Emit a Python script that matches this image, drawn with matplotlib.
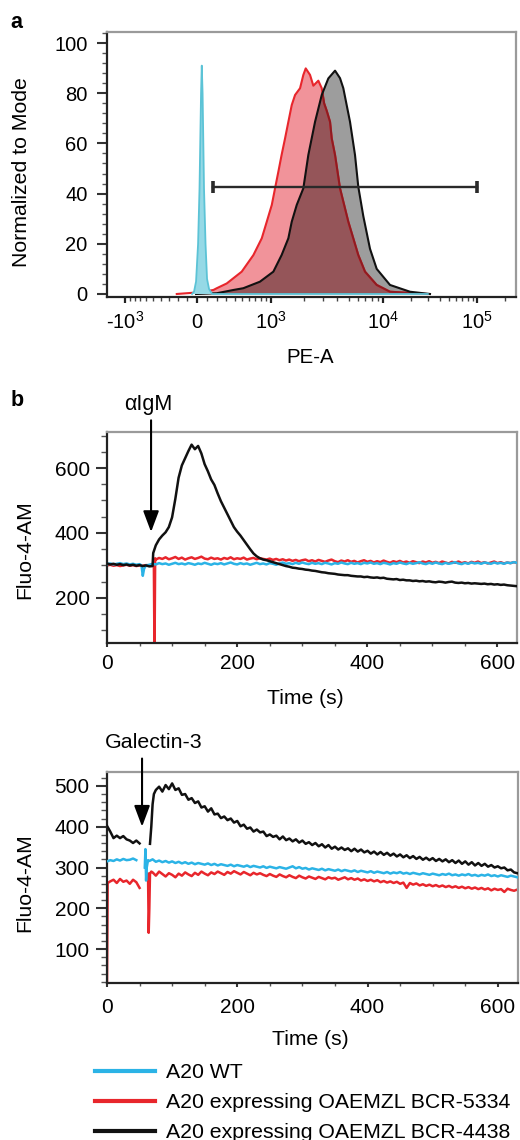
import numpy as np
import matplotlib
matplotlib.use("Agg")
import matplotlib.pyplot as plt
from matplotlib.lines import Line2D
from matplotlib.ticker import FixedLocator, MultipleLocator

plt.rcParams['font.family'] = ['Liberation Sans', 'DejaVu Sans']
plt.rcParams['mathtext.fontset'] = 'custom'
plt.rcParams['mathtext.rm'] = 'Liberation Sans'

# ---- panel a: flow histograms (PE-A, normalized to mode) ----
cyan_pe = [-50, -30, -10, 10, 24, 39, 46, 54, 68, 83, 98, 118, 149, 1000, 30000]
cyan_mode = [0, 1, 5, 20, 42, 80, 91, 80, 42, 20, 6, 2, 0, 0, 0]

red_pe = [-209, 29, 162, 197, 306, 493, 667, 813, 910, 1017, 1093, 1175, 1261, 1358,
          1457, 1565, 1678, 1862, 1993, 2094, 2288, 2448, 2711, 2906, 3050, 3216,
          3440, 3559, 3806, 4209, 4976, 6085, 6963, 8810, 11867, 29150]
red_mode = [0, 0.7, 1.6, 2.3, 4.2, 8.9, 15.5, 22.2, 28.8, 35.5, 42.1, 48.7, 55.4, 62,
            68.6, 75.3, 79.3, 82, 87.3, 89.9, 87.3, 83, 85, 82, 76, 73,
            68.6, 62, 55.4, 42.1, 28.8, 15.5, 8.9, 3.6, 0.9, 0]

black_pe = [-10, 197, 385, 515, 779, 1053, 1261, 1457, 1565, 1738, 1993, 2209, 2535,
            2906, 3322, 3806, 4209, 4499, 5150, 5694, 6085, 6731, 7700, 8810, 11867,
            19372, 31622]
black_mode = [0, 0.3, 1.6, 2.3, 4.9, 8.9, 15.5, 22.2, 28.8, 35.5, 42.1, 55.4, 68.6,
              79.3, 85.9, 89, 86, 82, 68.6, 55.4, 42.7, 31, 18, 10, 3.6, 0.9, 0]

gate_pe = [162, 1e5]
gate_level = 42.5

pe_ticks = [-1e3, 0, 1e3, 1e4, 1e5]
pe_labels = ['-$\\mathregular{10^3}$', '0', '$\\mathregular{10^3}$',
             '$\\mathregular{10^4}$', '$\\mathregular{10^5}$']
pe_minor = ([-100 * k for k in range(1, 10)] + [100 * k for k in range(1, 10)]
            + [1e3 * k for k in range(2, 10)] + [1e4 * k for k in range(2, 10)] + [2e5])

# ---- panel b: calcium flux, alpha-IgM ----
b1_black_pre = [306, 303, 305, 302, 304, 301, 303, 300, 302, 299, 301, 298, 300, 297, 298]
b1_black_jump_t, b1_black_jump_v = [71], [338]
b1_black_post = [362, 380, 392, 402, 418, 448, 505, 570, 608, 630, 652, 672, 658, 668,
                 645, 612, 590, 565, 548, 522, 498, 478, 458, 438, 418, 404, 392, 378,
                 364, 350, 337, 328, 322, 318, 316, 313, 310, 307, 304, 301,
                 298, 296, 293, 292, 290, 289, 287, 286, 284, 283, 281, 279, 278, 276,
                 275, 274, 272, 271, 270, 270, 268, 267, 266, 266, 264, 265, 263, 262,
                 263, 261, 262, 259, 258, 257, 258, 255, 256, 254, 254, 252, 253, 251,
                 252, 250, 251, 249, 248, 250, 249, 247, 249, 250, 247, 246, 247, 245,
                 246, 244, 245, 244, 243, 244, 242, 243, 241, 242, 240, 241, 239, 238,
                 237, 236]

b1_red_pre = [300, 302, 299, 301, 298, 300, 302, 299, 301, 298, 300, 299, 301, 300, 302]
b1_red_drop_t, b1_red_drop_v = [72, 73, 74], [303, 20, 322]
b1_red_post = [318, 323, 320, 325, 319, 322, 326, 320, 324, 318, 322, 325, 320, 323,
               327, 321, 319, 324, 320, 322, 318, 323, 320, 325, 319, 322, 320, 324,
               318, 321, 323, 319, 322, 320, 318, 321, 317, 320, 316, 319, 315, 318,
               314, 317, 313, 316, 318, 313, 316, 312, 317, 314, 311, 315, 318, 313,
               310, 315, 312, 316, 311, 314, 309, 313, 316, 311, 314, 309, 313, 310,
               315, 311, 308, 313, 310, 314, 309, 312, 308, 313, 310, 307, 312, 309,
               313, 308, 311, 307, 312, 309, 306, 311, 308, 312, 307, 310, 306, 311,
               308, 312, 307, 310, 306, 309, 312, 307, 310, 306, 309, 307, 310, 308]

b1_cyan_pre = [304, 306, 303, 305, 307, 304, 306, 303, 305, 302, 304]
b1_cyan_dip_t, b1_cyan_dip_v = [53, 55, 57, 60], [300, 268, 290, 300]
b1_cyan_post = [302, 305, 303, 307, 304, 306, 302, 305, 308, 304, 306, 303, 307, 305,
                302, 306, 304, 308, 305, 302, 306, 304, 307, 303, 306, 309, 305, 303,
                307, 304, 306, 302, 305, 308, 304, 306, 303, 307, 305, 302, 306, 309,
                305, 307, 304, 308, 305, 309, 306, 304, 308, 305, 307, 304, 308, 306,
                303, 307, 305, 309, 306, 304, 308, 305, 307, 304, 308, 306, 309, 305,
                307, 304, 308, 306, 303, 307, 305, 309, 306, 304, 308, 305, 307, 310,
                306, 304, 308, 305, 309, 306, 304, 308, 305, 307, 310, 306, 304, 308,
                305, 309, 306, 308, 305, 309, 307, 305, 309, 306, 308, 305, 309, 307,
                310, 308]

# ---- panel b: calcium flux, Galectin-3 ----
b2_black_pre = [402, 388, 372, 378, 372, 377, 369, 366, 360, 366, 359]
b2_black_jump_t, b2_black_jump_v = [66, 68, 70, 72, 75], [358, 400, 455, 480, 490]
b2_black_post = [498, 486, 502, 492, 506, 490, 494, 478, 480, 466, 470, 458, 462, 447,
                 450, 437, 445, 430, 432, 421, 425, 416, 420, 410, 414, 401, 405, 395,
                 398, 388, 393, 386, 388, 377, 381, 375, 378, 369, 376, 367, 371, 364,
                 369, 361, 366, 358, 362, 355, 360, 352, 357, 349, 355, 346, 351, 344,
                 349, 343, 347, 340, 346, 339, 344, 337, 341, 334, 339, 332, 338, 331,
                 336, 329, 334, 327, 332, 325, 330, 323, 328, 321, 326, 319, 324, 318,
                 323, 316, 321, 315, 320, 313, 318, 311, 317, 309, 315, 307, 313, 305,
                 311, 304, 309, 302, 306, 300, 303, 298, 300, 293, 295, 288, 286]

b2_cyan_pre = [315, 318, 316, 320, 317, 321, 318, 319, 322, 318]
b2_cyan_spike_t, b2_cyan_spike_v = [58, 59, 60, 61, 63], [300, 345, 268, 300, 318]
b2_cyan_post = [316, 320, 314, 317, 313, 316, 312, 315, 311, 314, 310, 313, 309, 312,
                308, 311, 309, 307, 310, 306, 309, 305, 308, 306, 304, 307, 303, 306,
                304, 302, 305, 301, 304, 302, 300, 303, 299, 302, 300, 298, 301, 299,
                297, 300, 303, 298, 301, 297, 299, 295, 298, 296, 294, 297, 293, 296,
                294, 292, 295, 291, 294, 292, 290, 293, 289, 292, 290, 288, 291, 287,
                290, 288, 286, 289, 285, 288, 286, 289, 285, 287, 284, 287, 285, 283,
                286, 284, 282, 285, 283, 281, 284, 282, 285, 281, 283, 280, 283, 281,
                284, 280, 282, 279, 282, 280, 283, 279, 281, 278, 281, 279, 277, 280,
                278, 276]

b2_red_start_t, b2_red_start_v = [0, 1], [20, 262]
b2_red_pre = [266, 270, 262, 272, 265, 268, 260, 270, 264, 250]
b2_red_spike_t, b2_red_spike_v = [63, 64, 65, 66, 68], [285, 140, 200, 285, 290]
b2_red_post = [288, 280, 290, 284, 278, 286, 282, 276, 285, 280, 288, 283, 279, 287,
               282, 290, 285, 281, 288, 284, 290, 286, 282, 289, 285, 291, 287, 283,
               289, 285, 281, 287, 283, 286, 282, 279, 284, 280, 277, 283, 279, 276,
               281, 277, 274, 280, 276, 273, 278, 275, 272, 277, 274, 271, 276, 273,
               275, 270, 273, 276, 271, 274, 270, 273, 268, 271, 267, 270, 266, 269,
               264, 267, 263, 266, 262, 265, 260, 263, 250, 262, 258, 261, 256, 259,
               255, 258, 254, 257, 253, 256, 252, 255, 251, 254, 250, 253, 249, 252,
               248, 251, 247, 250, 246, 249, 244, 248, 245, 247, 240, 248, 245, 243, 246]

legend_labels = ['A20 WT', 'A20 expressing OAEMZL BCR-5334', 'A20 expressing OAEMZL BCR-4438']

C_CYAN = '#2bb3e6'
C_RED = '#e8262c'
C_BLACK = '#111111'
GAP = (np.array([np.nan]), np.array([np.nan]))


def on_grid(t0, vals, step=5):
    return np.arange(len(vals)) * step + t0, np.asarray(vals, float)


def join(*parts):
    return (np.concatenate([np.asarray(p[0], float) for p in parts]),
            np.concatenate([np.asarray(p[1], float) for p in parts]))


# biexponential-like PE-A axis: arcsinh, stretched per decade
knot_u = np.arcsinh(np.array([-1e6, -1e3, 0, 1e3, 1e4, 1e5, 1e7]) / 500)
knot_pos = np.array([-414, -72, 0, 74, 186, 280, 468], float)


def fwd(x):
    return np.interp(np.arcsinh(np.asarray(x, float) / 500), knot_u, knot_pos)


def inv(p):
    return 500 * np.sinh(np.interp(np.asarray(p, float), knot_pos, knot_u))


def style_spines(ax):
    for s in ['left', 'bottom']:
        ax.spines[s].set_color('#222222')
        ax.spines[s].set_linewidth(1.6)
    for s in ['top', 'right']:
        ax.spines[s].set_color('#9a9a9a')
        ax.spines[s].set_linewidth(1.6)


fig = plt.figure(figsize=(5.2, 11.4), dpi=100)

# ---------------- panel a ----------------
ax = fig.add_axes([107 / 520, 1 - 296.5 / 1140, 409 / 520, 264.5 / 1140])
ax.set_xscale('function', functions=(fwd, inv))

pink = ax.fill(red_pe, red_mode, color='#f1939a', lw=0, zorder=1)[0]
gray = ax.fill(black_pe, black_mode, color='#9d9d9d', lw=0, zorder=2)[0]
maroon = ax.fill(red_pe, red_mode, color='#955559', lw=0, zorder=3)[0]
maroon.set_clip_path(gray)
ax.plot(red_pe, red_mode, color=C_RED, lw=1.5, zorder=4)
dark_red, = ax.plot(red_pe, red_mode, color='#8e1c22', lw=1.5, zorder=5)
dark_red.set_clip_path(gray)
ax.plot(black_pe, black_mode, color=C_BLACK, lw=1.5, zorder=6)
ax.fill(cyan_pe, cyan_mode, color='#95d9e6', lw=0, zorder=7)
ax.plot(cyan_pe, cyan_mode, color='#5cc3d6', lw=1.3, zorder=8)
ax.plot(gate_pe, [gate_level, gate_level], color='#2a2a2a', lw=1.7,
        marker='|', markersize=9, mew=2.6, zorder=9)

ax.set_xlim(-1480, 2.6e5)
ax.set_ylim(-1, 104.4)
ax.xaxis.set_major_locator(FixedLocator(pe_ticks))
ax.set_xticklabels(pe_labels)
ax.xaxis.set_minor_locator(FixedLocator(pe_minor))
ax.yaxis.set_major_locator(FixedLocator([0, 20, 40, 60, 80, 100]))
ax.yaxis.set_minor_locator(MultipleLocator(4))
ax.tick_params(axis='y', which='major', length=7.5, width=1.5, pad=6.5, labelsize=14.5,
               color='#333333')
ax.tick_params(axis='y', which='minor', length=3.8, width=1.0, color='#555555')
ax.tick_params(axis='x', which='major', length=4.5, width=1.6, pad=18.4, labelsize=14.5,
               color='#222222')
ax.tick_params(axis='x', which='minor', length=3.0, width=1.0, color='#444444')
for lbl in ax.get_xticklabels():
    lbl.set_va('baseline')
style_spines(ax)
ax.set_ylabel('Normalized to Mode', fontsize=15.3, va='center')
ax.yaxis.set_label_coords(-0.208, 0.47)
ax.set_xlabel('PE-A', fontsize=14.7, va='center')
ax.xaxis.set_label_coords(0.496, -0.229)

fig.text(16 / 520, 1 - 22 / 1140, 'a', fontsize=15.5, fontweight='bold',
         ha='center', va='center')
fig.text(17 / 520, 1 - 401 / 1140, 'b', fontsize=15.5, fontweight='bold',
         ha='center', va='center')

# ---------------- panel b1 ----------------
b1 = fig.add_axes([107 / 520, 1 - 643 / 1140, 410 / 520, 211 / 1140])
t, v = join(on_grid(0, b1_red_pre), (b1_red_drop_t, b1_red_drop_v), on_grid(75, b1_red_post))
b1.plot(t, v, color=C_RED, lw=1.8, zorder=2)
t, v = join(on_grid(0, b1_cyan_pre), (b1_cyan_dip_t, b1_cyan_dip_v), on_grid(65, b1_cyan_post))
b1.plot(t, v, color=C_CYAN, lw=1.8, zorder=3)
t, v = join(on_grid(0, b1_black_pre), (b1_black_jump_t, b1_black_jump_v),
            on_grid(75, b1_black_post))
b1.plot(t, v, color=C_BLACK, lw=1.8, zorder=4)
b1.set_xlim(0, 630)
b1.set_ylim(61, 711)
b1.xaxis.set_major_locator(FixedLocator([0, 200, 400, 600]))
b1.xaxis.set_minor_locator(MultipleLocator(50))
b1.yaxis.set_major_locator(FixedLocator([200, 400, 600]))
b1.yaxis.set_minor_locator(MultipleLocator(50))
b1.annotate('', xy=(67.7, 403), xytext=(67.7, 747), annotation_clip=False,
            arrowprops=dict(arrowstyle='-|>,head_length=0.4,head_width=0.15', color='k',
                            lw=1.5, mutation_scale=32, shrinkA=0, shrinkB=0))
b1.text(63.5, 797, '\u03b1IgM', fontsize=15.5, ha='center', va='center', clip_on=False)
b1.set_xlabel('Time (s)', fontsize=15.2, va='center')
b1.xaxis.set_label_coords(0.483, -0.265)
b1.set_ylabel('Fluo-4-AM', fontsize=15.2, va='center')
b1.yaxis.set_label_coords(-0.201, 0.441)

# ---------------- panel b2 ----------------
b2 = fig.add_axes([107 / 520, 1 - 983 / 1140, 411 / 520, 211 / 1140])
t, v = join((b2_red_start_t, b2_red_start_v), on_grid(5, b2_red_pre), GAP,
            (b2_red_spike_t, b2_red_spike_v), on_grid(70, b2_red_post))
b2.plot(t, v, color=C_RED, lw=1.8, zorder=2)
t, v = join(on_grid(0, b2_cyan_pre), GAP, (b2_cyan_spike_t, b2_cyan_spike_v),
            on_grid(65, b2_cyan_post))
b2.plot(t, v, color=C_CYAN, lw=1.8, zorder=3)
t, v = join(on_grid(0, b2_black_pre), GAP, (b2_black_jump_t, b2_black_jump_v),
            on_grid(80, b2_black_post))
b2.plot(t, v, color=C_BLACK, lw=1.8, zorder=4)
b2.set_xlim(0, 631)
b2.set_ylim(17, 534)
b2.xaxis.set_major_locator(FixedLocator([0, 200, 400, 600]))
b2.xaxis.set_minor_locator(MultipleLocator(50))
b2.yaxis.set_major_locator(FixedLocator([100, 200, 300, 400, 500]))
b2.yaxis.set_minor_locator(MultipleLocator(20))
b2.annotate('', xy=(53.8, 400), xytext=(53.8, 567), annotation_clip=False,
            arrowprops=dict(arrowstyle='-|>,head_length=0.4,head_width=0.15', color='k',
                            lw=1.5, mutation_scale=32, shrinkA=0, shrinkB=0))
b2.text(72.3, 606, 'Galectin-3', fontsize=15.4, ha='center', va='center', clip_on=False)
b2.set_xlabel('Time (s)', fontsize=15.2, va='center')
b2.xaxis.set_label_coords(0.494, -0.27)
b2.set_ylabel('Fluo-4-AM', fontsize=15.2, va='center')
b2.yaxis.set_label_coords(-0.2, 0.476)

for a, xpad in ((b1, 5.2), (b2, 7.6)):
    a.tick_params(axis='y', which='major', length=8, width=1.5, pad=4.4, labelsize=15,
                  color='#333333')
    a.tick_params(axis='y', which='minor', length=4, width=1.0, color='#555555')
    a.tick_params(axis='x', which='major', length=3, width=1.5, pad=xpad, labelsize=15,
                  color='#333333')
    a.tick_params(axis='x', which='minor', length=2.5, width=1.0, color='#555555')
    style_spines(a)

handles = [Line2D([], [], color=c, lw=3) for c in (C_CYAN, C_RED, C_BLACK)]
fig.legend(handles, legend_labels, loc='upper left', bbox_to_anchor=(95 / 520, 1 - 1063 / 1140),
           frameon=False, fontsize=15.3, handlelength=2.8, handletextpad=0.55,
           labelspacing=0.52, borderpad=0, borderaxespad=0)

fig.savefig('out.png', dpi=100)
